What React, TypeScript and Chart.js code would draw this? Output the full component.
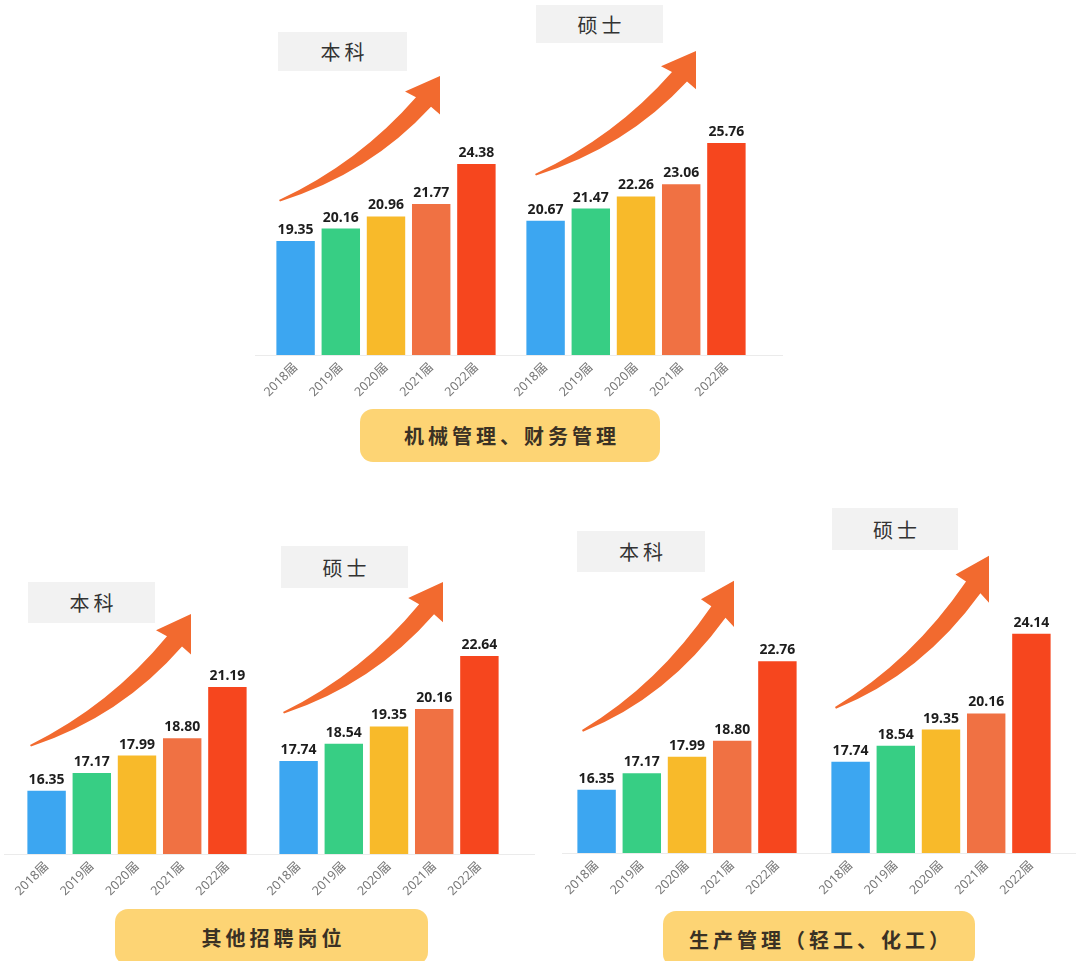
import React, { useEffect, useRef } from 'react';
import { Chart, registerables } from 'chart.js';

Chart.register(...registerables);

// ---------- data ----------
const years = ['2018届', '2019届', '2020届', '2021届', '2022届'];
const degreeLabels = ['本科', '硕士'];
const groupTitles = ['机械管理、财务管理', '其他招聘岗位', '生产管理（轻工、化工）'];

const mechUndergrad = [19.35, 20.16, 20.96, 21.77, 24.38];
const mechMaster = [20.67, 21.47, 22.26, 23.06, 25.76];
const otherUndergrad = [16.35, 17.17, 17.99, 18.8, 21.19];
const otherMaster = [17.74, 18.54, 19.35, 20.16, 22.64];
const prodUndergrad = [16.35, 17.17, 17.99, 18.8, 22.76];
const prodMaster = [17.74, 18.54, 19.35, 20.16, 24.14];

const barColors = ['#3CA6F1', '#37CE84', '#F8BA2A', '#F07143', '#F6461E'];

// ---------- layout ----------
const PITCH = 45.2;
const AREA_W = PITCH * 5;
const PAD_X = 34;
const PAD_TOP = 40;
const AREA_H = 230;
const XAXIS_H = 60;

const CJK = '"Noto Sans CJK SC", "Noto Sans", sans-serif';
const TICK_FONT = '"Noto Sans", "Noto Sans CJK SC", sans-serif';

const valueLabelPlugin = {
  id: 'valueLabels',
  afterDatasetsDraw(chart: any) {
    const ctx = chart.ctx;
    const meta = chart.getDatasetMeta(0);
    const data = chart.data.datasets[0].data as number[];
    ctx.save();
    ctx.font = 'bold 14px "Noto Sans", "DejaVu Sans", sans-serif';
    ctx.fillStyle = '#1d1d1d';
    ctx.textAlign = 'center';
    ctx.textBaseline = 'alphabetic';
    meta.data.forEach((el: any, i: number) => {
      ctx.fillText(Number(data[i]).toFixed(2), el.x, el.y - 7);
    });
    ctx.restore();
  },
};

type BarProps = { values: number[]; areaLeft: number; baselineY: number; k: number; v0: number };

function BarChart({ values, areaLeft, baselineY, k, v0 }: BarProps) {
  const ref = useRef<HTMLCanvasElement | null>(null);
  useEffect(() => {
    const canvas = ref.current;
    if (!canvas) return;
    const chart = new Chart(canvas, {
      type: 'bar',
      data: {
        labels: years,
        datasets: [
          {
            data: values,
            backgroundColor: barColors,
            borderWidth: 0,
            barPercentage: 0.85,
            categoryPercentage: 1,
          },
        ],
      },
      options: {
        responsive: false,
        animation: false,
        layout: { padding: { top: PAD_TOP, left: PAD_X, right: PAD_X, bottom: 0 } },
        plugins: { legend: { display: false }, tooltip: { enabled: false } },
        scales: {
          x: {
            grid: { display: false, drawTicks: false },
            border: { display: false },
            ticks: {
              minRotation: 45,
              maxRotation: 45,
              autoSkip: false,
              color: '#777777',
              padding: 5,
              font: { size: 12.5, family: TICK_FONT },
            },
            afterFit: (s: any) => {
              s.height = XAXIS_H;
            },
          },
          y: { display: false, min: v0, max: v0 + AREA_H / k },
        },
      },
      plugins: [valueLabelPlugin],
    });
    return () => chart.destroy();
  }, [values, areaLeft, baselineY, k, v0]);
  return (
    <canvas
      ref={ref}
      width={AREA_W + 2 * PAD_X}
      height={PAD_TOP + AREA_H + XAXIS_H}
      style={{ position: 'absolute', left: areaLeft - PAD_X, top: baselineY - AREA_H - PAD_TOP }}
    />
  );
}

function Arrow({ tail, tip }: { tail: [number, number]; tip: [number, number] }) {
  const sx = (tip[0] - tail[0]) / 161;
  const sy = (tip[1] - tail[1]) / -128;
  const d =
    'M 0 0 Q 80 -39 137 -107 L 126 -113 L 161 -129 L 161 -89 L 152 -97 Q 91 -28 1 1.5 Z';
  return (
    <g transform={`translate(${tail[0]},${tail[1]}) scale(${sx},${sy})`}>
      <path d={d} fill="#F26A2F" />
    </g>
  );
}

function GrayTag({ text, x, y, w, h }: { text: string; x: number; y: number; w: number; h: number }) {
  return (
    <div
      style={{
        position: 'absolute',
        left: x,
        top: y,
        width: w,
        height: h,
        background: '#F2F2F2',
        display: 'flex',
        alignItems: 'center',
        justifyContent: 'center',
        fontFamily: CJK,
        fontSize: 20,
        letterSpacing: 4,
        paddingLeft: 4,
        boxSizing: 'border-box',
        color: '#333333',
      }}
    >
      {text}
    </div>
  );
}

function YellowTag({ text, x, y, w, h }: { text: string; x: number; y: number; w: number; h: number }) {
  return (
    <div
      style={{
        position: 'absolute',
        left: x,
        top: y,
        width: w,
        height: h,
        background: '#FDD474',
        borderRadius: 13,
        display: 'flex',
        alignItems: 'center',
        justifyContent: 'center',
        fontFamily: CJK,
        fontSize: 20,
        fontWeight: 'bold',
        letterSpacing: 4,
        paddingLeft: 4,
        boxSizing: 'border-box',
        color: '#3A3124',
      }}
    >
      {text}
    </div>
  );
}

function Line({ x1, x2, y }: { x1: number; x2: number; y: number }) {
  return (
    <div style={{ position: 'absolute', left: x1, top: y, width: x2 - x1, height: 1, background: '#EBEBEB' }} />
  );
}

export default function App() {
  return (
    <div
      style={{
        position: 'absolute',
        left: 0,
        top: 0,
        width: 1076,
        height: 961,
        overflow: 'hidden',
        background: '#FFFFFF',
      }}
    >
      {/* baselines */}
      <Line x1={255} x2={783} y={355} />
      <Line x1={4} x2={535} y={854} />
      <Line x1={562} x2={1076} y={853} />

      {/* charts */}
      <BarChart values={mechUndergrad} areaLeft={273.3} baselineY={355} k={15.3} v0={11.9} />
      <BarChart values={mechMaster} areaLeft={522.7} baselineY={355} k={15.3} v0={11.9} />
      <BarChart values={otherUndergrad} areaLeft={24.3} baselineY={854} k={21.4} v0={13.39} />
      <BarChart values={otherMaster} areaLeft={276} baselineY={854} k={21.4} v0={13.39} />
      <BarChart values={prodUndergrad} areaLeft={574.3} baselineY={853} k={20.03} v0={13.19} />
      <BarChart values={prodMaster} areaLeft={828.3} baselineY={853} k={20.03} v0={13.19} />

      {/* arrows */}
      <svg width={1076} height={961} style={{ position: 'absolute', left: 0, top: 0, pointerEvents: 'none' }}>
        <Arrow tail={[279, 200]} tip={[440, 77]} />
        <Arrow tail={[535, 174]} tip={[696, 52]} />
        <Arrow tail={[30, 745]} tip={[191, 615]} />
        <Arrow tail={[283, 712]} tip={[443, 583]} />
        <Arrow tail={[582, 730]} tip={[734, 582]} />
        <Arrow tail={[835, 707]} tip={[989, 557]} />
      </svg>

      {/* degree tags */}
      <GrayTag text={degreeLabels[0]} x={278} y={32} w={129} h={39} />
      <GrayTag text={degreeLabels[1]} x={536} y={5} w={127} h={38} />
      <GrayTag text={degreeLabels[0]} x={28} y={582} w={127} h={41} />
      <GrayTag text={degreeLabels[1]} x={281} y={546} w={127} h={42} />
      <GrayTag text={degreeLabels[0]} x={577} y={531} w={128} h={41} />
      <GrayTag text={degreeLabels[1]} x={832} y={508} w={126} h={42} />

      {/* group titles */}
      <YellowTag text={groupTitles[0]} x={360} y={409} w={300} h={53} />
      <YellowTag text={groupTitles[1]} x={115} y={909} w={313} h={56} />
      <YellowTag text={groupTitles[2]} x={663} y={911} w={312} h={56} />
    </div>
  );
}
